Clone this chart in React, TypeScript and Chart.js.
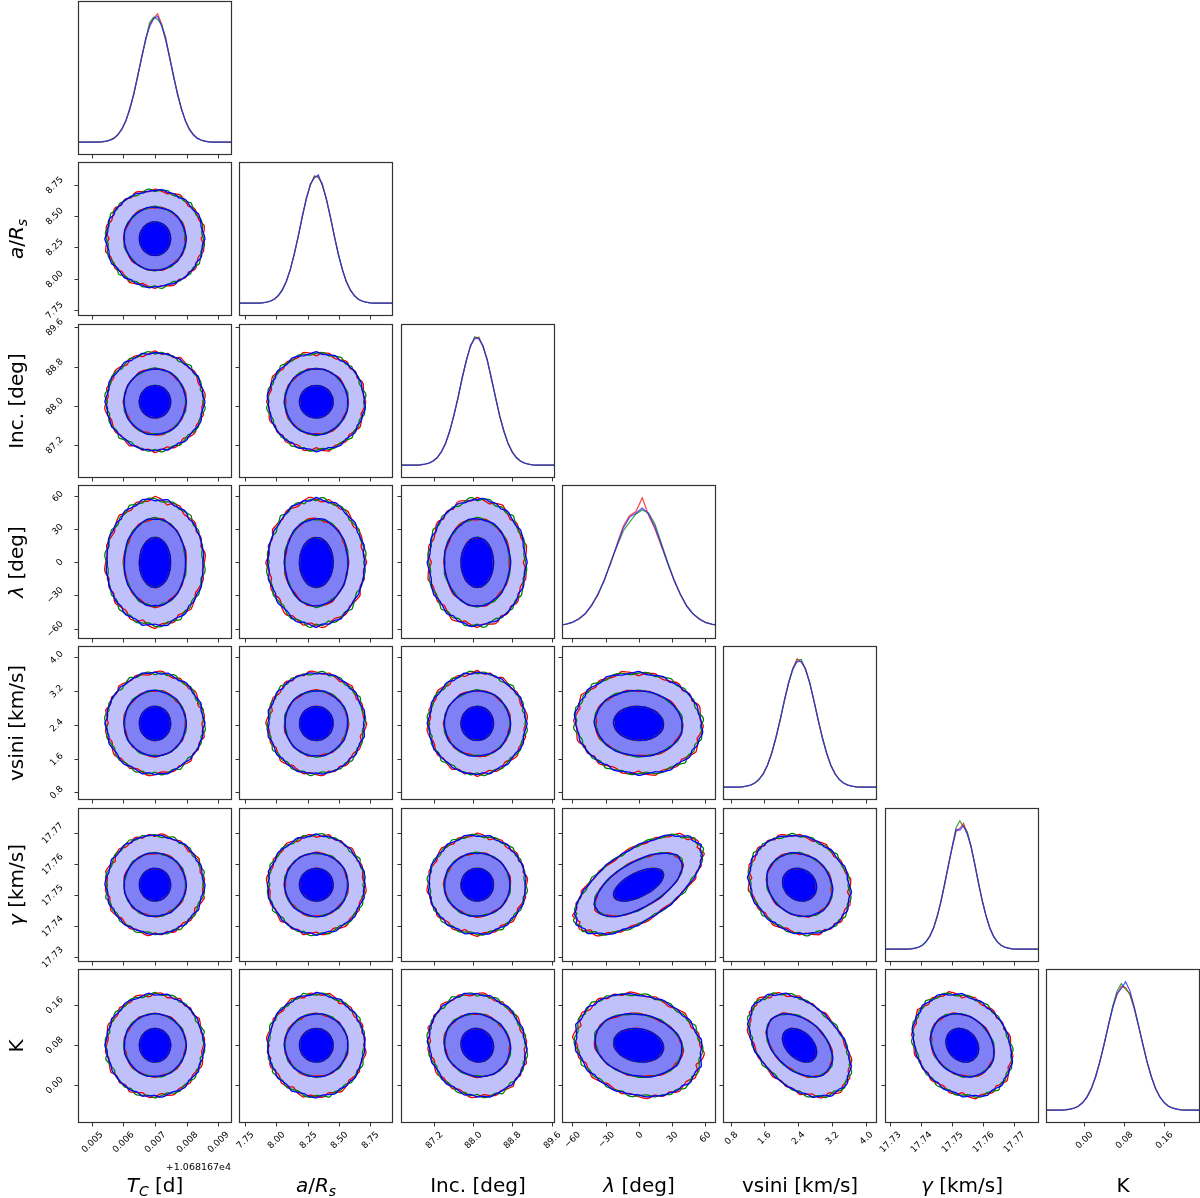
import React, { useEffect, useRef } from "react";
import { Chart, registerables } from "chart.js";
Chart.register(...registerables);

// ---------------- data ----------------
// parameter order: Tc (offset), a/Rs, Inc, lambda, vsini, gamma, K
const axisMin = [0.00457, 7.7, 86.52, -69.5, 0.62, 17.7285, -0.0745];
const axisMax = [0.00943, 8.935, 89.67, 70.3, 4.26, 17.7779, 0.2305];

const tickValues = [
  [0.005, 0.006, 0.007, 0.008, 0.009],
  [7.75, 8.0, 8.25, 8.5, 8.75],
  [87.2, 88.0, 88.8, 89.6],
  [-60, -30, 0, 30, 60],
  [0.8, 1.6, 2.4, 3.2, 4.0],
  [17.73, 17.74, 17.75, 17.76, 17.77],
  [0.0, 0.08, 0.16],
];
const tickLabels = [
  ["0.005", "0.006", "0.007", "0.008", "0.009"],
  ["7.75", "8.00", "8.25", "8.50", "8.75"],
  ["87.2", "88.0", "88.8", "89.6"],
  ["\u221260", "\u221230", "0", "30", "60"],
  ["0.8", "1.6", "2.4", "3.2", "4.0"],
  ["17.73", "17.74", "17.75", "17.76", "17.77"],
  ["0.00", "0.08", "0.16"],
];
const offsetText = "+1.068167e4";

type Seg = { t: string; i?: boolean; sub?: boolean };
const axisLabels: Seg[][] = [
  [{ t: "T", i: true }, { t: "C", i: true, sub: true }, { t: " [d]" }],
  [{ t: "a", i: true }, { t: "/" }, { t: "R", i: true }, { t: "s", i: true, sub: true }],
  [{ t: "Inc. [deg]" }],
  [{ t: "\u03bb", i: true }, { t: " [deg]" }],
  [{ t: "vsini [km/s]" }],
  [{ t: "\u03b3", i: true }, { t: " [km/s]" }],
  [{ t: "K" }],
];

// contour centres and half-widths (data units) for the three levels
const contourCenter = [0.007, 8.32, 88.08, 0, 2.43, 17.7533, 0.0795];
const contourOuter = [0.00153, 0.385, 0.99, 57, 1.19, 0.01575, 0.101];
const contourMid = [0.00097, 0.252, 0.67, 39.5, 0.77, 0.0101, 0.062];
const contourInner = [0.00049, 0.134, 0.33, 22.5, 0.4, 0.0052, 0.033];

// correlation (row parameter vs column parameter), lower triangle
const correlation = [
  [1],
  [0, 1],
  [0, 0, 1],
  [0, 0, 0, 1],
  [0, 0, 0, -0.05, 1],
  [0, 0, 0, 0.6, -0.15, 1],
  [0, 0, -0.08, -0.15, -0.4, -0.2, 1],
];

// contour wiggles per chain (radial factors around the loop)
const wobbleRed = [1.02, 0.99, 1.03, 1.0, 0.98, 1.02, 1.01, 0.97, 1.01, 1.03, 0.99, 1.0, 1.02, 0.98, 1.0, 1.03, 1.01, 0.98, 1.0, 1.02, 0.99, 1.01, 1.03, 0.99];
const wobbleGreen = [1.0, 1.02, 0.99, 1.03, 1.01, 0.99, 1.02, 1.0, 0.98, 1.01, 1.02, 0.99, 1.0, 1.03, 0.99, 1.01, 0.98, 1.02, 1.01, 0.99, 1.03, 1.0, 0.98, 1.01];
const wobbleBlue = [1.01, 1.0, 1.01, 0.99, 1.02, 1.0, 0.99, 1.02, 1.0, 0.99, 1.01, 1.02, 0.99, 1.0, 1.02, 0.99, 1.01, 1.0, 1.02, 1.0, 1.0, 0.99, 1.01, 1.0];

// histogram bin ranges (36 bins each)
const histLo = [0.00477, 7.744, 86.54, -103, 0.62, 17.7315, -0.0741];
const histHi = [0.00927, 8.896, 89.6, 104, 4.22, 17.7747, 0.2319];

const tcRed = [0,0,0,0.1,0.3,0.7,1.8,3.0,6.3,10.1,17.7,26.0,39.5,52.4,69.0,81.5,94.0,99.0,102.5,94.5,81.6,69.1,52.5,39.6,26.3,17.6,10.8,5.7,3.4,1.5,0.9,0.2,0.1,0,0,0];
const tcGreen = [0,0,0,0.1,0.3,0.8,1.6,3.1,6.1,10.6,17.1,26.9,38.6,53.5,68.0,82.0,95.5,99.8,98.0,93.9,84.0,68.4,52.8,39.2,26.5,17.4,10.4,6.2,3.2,1.6,0.8,0.3,0.1,0,0,0];
const tcBlue = [0,0,0,0.2,0.4,0.9,1.5,3.4,5.8,10.9,16.8,27.3,38.2,53.8,67.5,83.1,92.4,98.6,100.5,92.8,83.0,67.6,53.9,38.0,27.2,16.9,10.2,6.1,3.0,1.7,0.7,0.3,0.1,0,0,0];

const arsRed = [0,0,0,0.1,0.4,0.7,1.5,3.3,5.9,10.8,16.9,27.2,38.4,53.6,67.6,82.9,92.5,100.3,98.7,94.1,81.5,68.9,52.6,39.4,26.2,17.7,10.1,6.3,3.0,1.7,0.7,0.3,0.1,0,0,0];
const arsGreen = [0,0,0,0.1,0.3,0.9,1.6,3.2,6.0,10.4,17.3,26.6,39.0,52.9,68.5,82.4,93.0,99.5,99.9,93.4,82.2,68.0,53.3,38.7,26.9,17.1,10.6,6.0,3.1,1.6,0.8,0.3,0.1,0,0,0];
const arsBlue = [0,0,0,0.1,0.3,0.8,1.7,3.1,6.2,10.3,17.5,26.4,39.3,52.7,68.8,81.7,93.8,98.4,101.0,92.6,82.7,67.9,53.4,38.5,27.1,16.8,10.7,5.9,3.3,1.5,0.8,0.3,0.1,0,0,0];

const incRed = [0,0,0,0.1,0.3,0.7,1.7,3.0,6.2,10.2,17.6,26.3,39.6,52.3,69.0,81.4,94.1,98.7,100.2,92.4,83.1,67.5,53.8,38.1,27.3,16.9,10.8,5.8,3.3,1.5,0.8,0.3,0.1,0,0,0];
const incGreen = [0,0,0,0.1,0.4,0.9,1.5,3.4,5.8,10.9,16.9,27.1,38.5,53.6,67.8,82.8,92.7,100.4,99.3,93.6,81.9,68.6,52.7,39.3,26.4,17.4,10.3,6.2,3.1,1.7,0.7,0.3,0.1,0,0,0];
const incBlue = [0,0,0,0.1,0.3,0.8,1.6,3.3,6.0,10.6,17.0,26.9,39.1,52.8,68.4,82.0,93.5,99.6,98.8,93.0,82.6,68.0,53.2,38.6,26.9,17.3,10.4,6.0,3.2,1.6,0.8,0.3,0.1,0,0,0];

const lamRed = [0,0,0.1,0.1,0.4,0.8,1.6,3.1,6.3,10.2,17.9,26.1,39.4,52.5,68.8,84.0,93.0,96.4,108.0,93.1,82.0,67.4,53.7,38.5,26.6,17.5,10.6,5.8,3.2,1.5,0.9,0.3,0.1,0,0,0];
const lamGreen = [0,0,0.1,0.2,0.3,0.8,1.7,3.3,6.0,10.5,17.1,27.3,38.2,53.9,67.2,80.1,87.5,94.5,97.8,95.2,86.0,70.1,54.0,39.6,26.8,16.7,10.4,6.2,3.0,1.6,0.8,0.3,0.1,0,0,0];
const lamBlue = [0,0,0.1,0.2,0.4,0.9,1.8,3.4,6.2,10.8,17.4,26.8,38.7,53.3,67.9,82.5,91.8,95.0,99.5,94.6,83.4,68.6,52.6,39.0,27.0,17.0,10.3,6.1,3.1,1.7,0.8,0.4,0.1,0.1,0,0];

const vsRed = [0,0,0,0.1,0.3,0.7,1.7,3.1,5.9,10.7,16.9,27.0,38.5,53.4,67.7,81.8,94.0,101.3,98.5,93.9,82.5,67.8,53.5,39.3,26.4,17.4,10.3,6.1,3.1,1.7,0.8,0.3,0.1,0,0,0];
const vsGreen = [0,0,0,0.1,0.3,0.9,1.5,3.3,6.2,10.3,17.5,26.6,39.0,52.6,68.7,82.2,92.8,100.2,100.8,92.6,82.8,68.0,52.5,38.6,27.2,16.9,10.5,6.0,3.3,1.6,0.7,0.3,0.1,0,0,0];
const vsBlue = [0,0,0,0.1,0.3,0.8,1.6,3.2,6.1,10.4,17.3,26.5,39.2,53.0,68.1,82.6,93.4,98.9,99.4,93.1,82.0,68.5,52.9,38.8,26.8,17.1,10.6,5.9,3.2,1.6,0.8,0.3,0.1,0,0,0];

const gamRed = [0,0,0,0.1,0.3,0.7,1.7,3.1,6.2,10.3,17.4,26.4,39.3,52.7,68.6,81.9,94.5,97.0,101.0,93.5,81.8,68.3,52.9,39.2,26.9,17.0,10.6,5.9,3.1,1.7,0.8,0.3,0.1,0,0,0];
const gamGreen = [0,0,0,0.1,0.4,0.9,1.5,3.3,5.9,10.8,16.8,27.2,38.4,53.7,67.5,83.0,97.5,103.0,98.2,94.0,82.3,68.7,52.6,38.5,27.1,17.2,10.3,6.1,3.3,1.5,0.8,0.3,0.1,0,0,0];
const gamBlue = [0,0,0,0.1,0.3,0.8,1.6,3.2,6.0,10.6,17.1,26.9,38.8,53.2,68.0,82.5,96.0,95.5,99.0,92.0,83.0,67.8,53.4,38.9,26.6,17.3,10.4,6.0,3.2,1.6,0.8,0.3,0.1,0,0,0];

const kRed = [0,0,0,0.1,0.3,0.7,1.6,3.4,5.9,10.9,17.5,27.0,39.2,52.7,68.5,82.9,92.8,99.3,98.4,92.6,81.7,67.6,53.6,38.4,27.0,17.0,10.7,5.8,3.2,1.7,0.8,0.3,0.1,0,0,0];
const kGreen = [0,0,0,0.1,0.4,0.8,1.5,3.1,6.2,10.3,17.2,26.8,38.9,53.1,68.2,83.5,95.5,101.5,97.0,93.5,82.2,68.0,52.8,38.8,26.6,17.1,10.5,6.1,3.1,1.6,0.7,0.3,0.1,0,0,0];
const kBlue = [0,0,0,0.1,0.3,0.8,1.7,3.2,6.1,10.5,16.9,26.4,38.6,53.4,67.9,81.8,93.6,97.5,103.0,95.8,83.0,68.3,53.0,39.1,26.8,17.3,10.4,6.0,3.2,1.6,0.8,0.3,0.1,0,0,0];

const histograms = [
  [tcRed, tcGreen, tcBlue],
  [arsRed, arsGreen, arsBlue],
  [incRed, incGreen, incBlue],
  [lamRed, lamGreen, lamBlue],
  [vsRed, vsGreen, vsBlue],
  [gamRed, gamGreen, gamBlue],
  [kRed, kGreen, kBlue],
];

const chainLine = ["rgb(235,0,0)", "rgb(0,128,0)", "rgb(0,0,255)"];
const chainHist = ["rgba(255,0,0,0.75)", "rgba(0,128,0,0.75)", "rgba(40,40,255,0.8)"];
const wobbles = [wobbleRed, wobbleGreen, wobbleBlue];
const levelHalf = [contourOuter, contourMid, contourInner];
const levelFill = ["rgb(192,192,250)", "rgb(128,128,246)", "rgb(0,0,255)"];
const levelWobbleAmp = [1.7, 1.2, 0.9];
const levelWobbleTurns = [2, 1, 1];

// ---------------- layout ----------------
const NP = 7;
const PANEL = 154;
const PITCH = 161.3;
const LEFT0 = 78;
const TOP0 = 1;
const FONT = "'DejaVu Sans', 'Liberation Sans', sans-serif";

function contourPoints(xi: number, yi: number, level: number, wob: number[], shift: number) {
  const hx = levelHalf[level][xi];
  const hy = levelHalf[level][yi];
  const rho = correlation[yi][xi] || 0;
  const s = Math.sqrt(1 - rho * rho);
  const N = 120;
  const turns = levelWobbleTurns[level];
  const pts: { x: number; y: number }[] = [];
  for (let k = 0; k <= N; k++) {
    const kk = k % N;
    const t = (kk / N) * Math.PI * 2;
    const f = ((kk / N) * wob.length * turns + shift) % wob.length;
    const i0 = Math.floor(f);
    const i1 = (i0 + 1) % wob.length;
    const fr = f - i0;
    const w = 1 + (wob[i0] * (1 - fr) + wob[i1] * fr - 1) * levelWobbleAmp[level];
    const u = w * Math.cos(t);
    const v = w * (rho * Math.cos(t) + s * Math.sin(t));
    pts.push({ x: contourCenter[xi] + u * hx, y: contourCenter[yi] + v * hy });
  }
  return pts;
}

function histPoints(p: number, counts: number[]) {
  const n = counts.length;
  const bw = (histHi[p] - histLo[p]) / n;
  const pts = [{ x: Math.min(axisMin[p], histLo[p]), y: 0 }];
  for (let k = 0; k < n; k++) pts.push({ x: histLo[p] + (k + 0.5) * bw, y: counts[k] });
  pts.push({ x: Math.max(axisMax[p], histHi[p]), y: 0 });
  return pts;
}

function drawRich(ctx: CanvasRenderingContext2D, segs: Seg[], size: number) {
  const fontOf = (s: Seg) => `${s.i ? "italic " : ""}${s.sub ? size * 0.7 : size}px ${FONT}`;
  let total = 0;
  const widths = segs.map((s) => {
    ctx.font = fontOf(s);
    const w = ctx.measureText(s.t).width;
    total += w;
    return w;
  });
  let x = -total / 2;
  ctx.textAlign = "left";
  ctx.textBaseline = "alphabetic";
  segs.forEach((s, k) => {
    ctx.font = fontOf(s);
    ctx.fillText(s.t, x, s.sub ? size * 0.22 : 0);
    x += widths[k];
  });
}

function makePlugin(row: number, col: number) {
  return {
    id: "cornerDecor" + row + "_" + col,
    afterDraw(chart: any) {
      const ctx: CanvasRenderingContext2D = chart.ctx;
      const ca = chart.chartArea;
      const xs = chart.scales.x;
      const ys = chart.scales.y;
      ctx.save();
      ctx.strokeStyle = "#333";
      ctx.lineWidth = 1.2;
      ctx.strokeRect(ca.left + 0.5, ca.top + 0.5, ca.right - ca.left - 1, ca.bottom - ca.top - 1);
      ctx.lineWidth = 1;
      ctx.fillStyle = "#000";
      const fs = 9;
      const xp = col;
      tickValues[xp].forEach((v, k) => {
        if (v < axisMin[xp] || v > axisMax[xp]) return;
        const px = Math.round(xs.getPixelForValue(v)) + 0.5;
        ctx.beginPath();
        ctx.moveTo(px, ca.bottom);
        ctx.lineTo(px, ca.bottom + 3.5);
        ctx.strokeStyle = "#333";
        ctx.stroke();
        if (row === NP - 1) {
          const lbl = tickLabels[xp][k];
          ctx.font = `${fs}px ${FONT}`;
          const w = ctx.measureText(lbl).width;
          const bh = (w + fs) * Math.SQRT1_2;
          ctx.save();
          ctx.translate(px, ca.bottom + 7 + bh / 2);
          ctx.rotate(-Math.PI / 4);
          ctx.textAlign = "center";
          ctx.textBaseline = "middle";
          ctx.fillText(lbl, 0, 0);
          ctx.restore();
        }
      });
      if (row > col) {
        const yp = row;
        tickValues[yp].forEach((v, k) => {
          if (v < axisMin[yp] || v > axisMax[yp]) return;
          const py = Math.round(ys.getPixelForValue(v)) + 0.5;
          ctx.beginPath();
          ctx.moveTo(ca.left, py);
          ctx.lineTo(ca.left - 3.5, py);
          ctx.strokeStyle = "#333";
          ctx.stroke();
          if (col === 0) {
            const lbl = tickLabels[yp][k];
            ctx.font = `${fs}px ${FONT}`;
            const w = ctx.measureText(lbl).width;
            const bw = (w + fs) * Math.SQRT1_2;
            ctx.save();
            ctx.translate(ca.left - 13 - bw / 2, py);
            ctx.rotate(-Math.PI / 4);
            ctx.textAlign = "center";
            ctx.textBaseline = "middle";
            ctx.fillText(lbl, 0, 0);
            ctx.restore();
          }
        });
      }
      if (row === NP - 1) {
        ctx.save();
        ctx.translate((ca.left + ca.right) / 2, ca.bottom + 69);
        drawRich(ctx, axisLabels[col], 20);
        ctx.restore();
        if (col === 0) {
          ctx.font = `${fs + 0.5}px ${FONT}`;
          ctx.textAlign = "right";
          ctx.textBaseline = "alphabetic";
          ctx.fillText(offsetText, ca.right - 1, ca.bottom + 47);
        }
      }
      if (col === 0 && row > 0) {
        ctx.save();
        ctx.translate(ca.left - 55, (ca.top + ca.bottom) / 2);
        ctx.rotate(-Math.PI / 2);
        drawRich(ctx, axisLabels[row], 20);
        ctx.restore();
      }
      ctx.restore();
    },
  };
}

function buildDatasets(row: number, col: number) {
  const ds: any[] = [];
  if (row === col) {
    histograms[row].forEach((counts, c) => {
      ds.push({
        type: "line",
        data: histPoints(row, counts),
        borderColor: chainHist[c],
        borderWidth: 1.2,
        pointRadius: 0,
        tension: 0,
        fill: false,
        order: 3 - c,
      });
    });
    return ds;
  }
  const shift = (row * 7 + col * 5) % 24;
  for (let L = 0; L < 3; L++) {
    ds.push({
      type: "line",
      data: contourPoints(col, row, L, wobbleBlue, shift),
      borderWidth: 0,
      borderColor: "rgba(0,0,0,0)",
      backgroundColor: levelFill[L],
      pointRadius: 0,
      tension: 0.35,
      fill: "shape",
      order: 30 - L,
    });
  }
  for (let c = 0; c < 3; c++) {
    for (let L = 0; L < 3; L++) {
      ds.push({
        type: "line",
        data: contourPoints(col, row, L, wobbles[c], shift),
        borderColor: chainLine[c],
        borderWidth: 1.3,
        pointRadius: 0,
        tension: 0.35,
        fill: false,
        order: 10 - c,
      });
    }
  }
  return ds;
}

function Panel({ row, col }: { row: number; col: number }) {
  const ref = useRef<HTMLCanvasElement>(null);
  const pl = Math.round(LEFT0 + col * PITCH);
  const pt = Math.round(TOP0 + row * PITCH);
  const L = col === 0 ? pl : 6;
  const T = row === 0 ? pt : col === 0 ? 12 : 3;
  const R = row === NP - 1 ? 10 : 3;
  const B = row === NP - 1 ? 1198 - (pt + PANEL) : col === 0 ? 12 : 6;
  const W = PANEL + L + R;
  const H = PANEL + T + B;

  useEffect(() => {
    const canvas = ref.current;
    if (!canvas) return;
    const isHist = row === col;
    let yMin = axisMin[row];
    let yMax = axisMax[row];
    if (isHist) {
      const M = Math.max(...histograms[row].map((a) => Math.max(...a)));
      yMin = -0.1 * M;
      yMax = 1.1 * M;
    }
    const chart = new Chart(canvas, {
      type: "line",
      data: { datasets: buildDatasets(row, col) },
      options: {
        responsive: false,
        maintainAspectRatio: false,
        animation: false,
        events: [],
        devicePixelRatio: 1,
        layout: { padding: { left: L, right: R, top: T, bottom: B } },
        scales: {
          x: { type: "linear", display: false, min: axisMin[col], max: axisMax[col] },
          y: { type: "linear", display: false, min: yMin, max: yMax },
        },
        plugins: {
          legend: { display: false },
          tooltip: { enabled: false },
          title: { display: false },
        },
      } as any,
      plugins: [makePlugin(row, col)],
    } as any);
    return () => chart.destroy();
  }, []);

  return (
    <canvas
      ref={ref}
      width={W}
      height={H}
      style={{ position: "absolute", left: pl - L, top: pt - T, width: W, height: H }}
    />
  );
}

export default function App() {
  useEffect(() => {
    document.body.style.margin = "0";
    document.body.style.background = "#fff";
  }, []);
  const panels: JSX.Element[] = [];
  for (let r = 0; r < NP; r++) {
    for (let c = 0; c <= r; c++) {
      panels.push(<Panel key={r + "_" + c} row={r} col={c} />);
    }
  }
  return (
    <div style={{ position: "relative", width: 1200, height: 1198, overflow: "hidden", background: "#fff" }}>
      {panels}
    </div>
  );
}
